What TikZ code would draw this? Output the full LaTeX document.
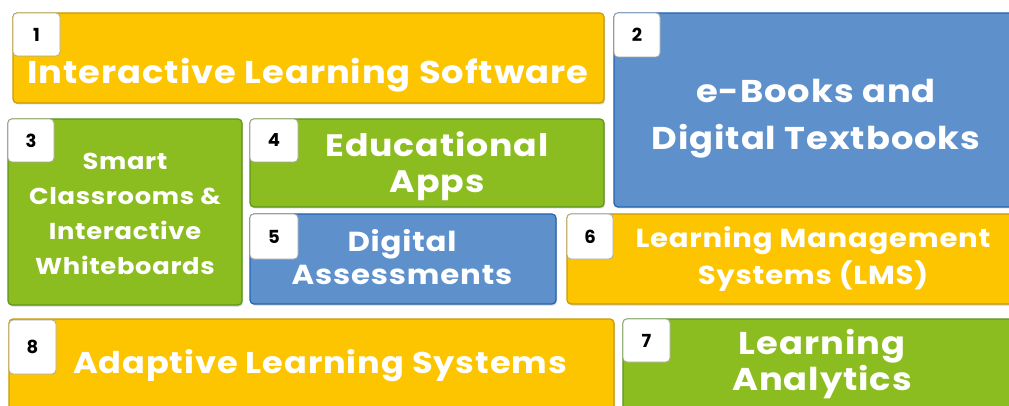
\documentclass[tikz,border=0pt]{standalone}
\usepackage{fontspec}
\setmainfont{Poppins}
\newfontfamily\lblfont{Poppins}[LetterSpace=3,FakeStretch=1.12]
\usetikzlibrary{shadows}
\definecolor{cyel}{HTML}{FDC500}
\definecolor{cyelD}{HTML}{C99A00}
\definecolor{cblu}{HTML}{5E91CC}
\definecolor{cbluD}{HTML}{2363AE}
\definecolor{cgrn}{HTML}{8CBD20}
\definecolor{cgrnD}{HTML}{5C951A}
\tikzset{
  tile/.style={draw, line width=1.2pt, rounded corners=4pt, inner sep=0pt, drop shadow={shadow xshift=1pt, shadow yshift=-1.5pt, opacity=0.35}},
  yel/.style={tile, fill=cyel, draw=cyelD},
  blu/.style={tile, fill=cblu, draw=cbluD},
  grn/.style={tile, fill=cgrn, draw=cgrnD},
  badge/.style={draw=gray!70, fill=white, rounded corners=4pt, line width=0.8pt, font=\bfseries\fontsize{18}{18}\selectfont, text=black},
  lbl/.style 2 args={text=white, align=center, inner sep=0pt, font=\lblfont\bfseries\fontsize{#1}{#2}\selectfont},
}
\begin{document}
\begin{tikzpicture}[x=1pt,y=-1pt]
\useasboundingbox (0,0) rectangle (1009,406);
\fill[white] (0,0) rectangle (1009,406);
\clip (0,0) rectangle (1009,406);
% boxes
\draw[yel] (13,13) rectangle (604,103);
\draw[blu] (614,13) rectangle (1020,207);
\draw[grn] (8,119) rectangle (242,305);
\draw[grn] (250,119) rectangle (604,207);
\draw[blu] (250,214) rectangle (556,304);
\draw[yel] (567,214) rectangle (1020,304);
\draw[yel] (9,319) rectangle (614,420);
\draw[grn] (623,319) rectangle (1020,420);
% badges
\draw[badge] (13,13) rectangle (60,56) node[pos=0.5] (b1) {1};
\draw[badge] (614,13) rectangle (660,57) node[pos=0.5] (b2) {2};
\draw[badge] (8,119) rectangle (54,162) node[pos=0.5] (b3) {3};
\draw[badge] (250,119) rectangle (298,162) node[pos=0.5] (b4) {4};
\draw[badge] (250,214) rectangle (298,259) node[pos=0.5] (b5) {5};
\draw[badge] (567,214) rectangle (613,259) node[pos=0.5] (b6) {6};
\draw[badge] (623,319) rectangle (670,362) node[pos=0.5] (b7) {7};
\draw[badge] (9,320) rectangle (56,374) node[pos=0.5] (b8) {8};
% labels
\node[lbl={31.5}{46}] (t1) at (308,75) {Interactive Learning Software};
\node[lbl={31.5}{47}] (t2) at (816,119) {e-Books and\\Digital Textbooks};
\node[lbl={23}{35}] (t3) at (125,214) {Smart\\Classrooms \&\\Interactive\\Whiteboards};
\node[lbl={31}{36}] (t4) at (437,166) {Educational\\Apps};
\node[lbl={27.5}{33}] (t5) at (402,257) {Digital\\Assessments};
\node[lbl={26}{37}] (t6) at (813,259) {Learning Management\\Systems (LMS)};
\node[lbl={31.5}{36}] (t7) at (822,364) {Learning\\Analytics};
\node[lbl={30}{46}] (t8) at (320,366) {Adaptive Learning Systems};
\end{tikzpicture}
\end{document}
